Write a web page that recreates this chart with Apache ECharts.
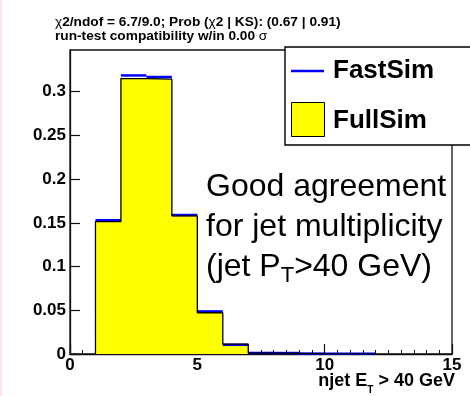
<!DOCTYPE html>
<html>
<head>
<meta charset="utf-8">
<script src="https://cdn.jsdelivr.net/npm/echarts@6/dist/echarts.min.js"></script>
<style>
  html, body { margin: 0; padding: 0; background: #fff; }
  #chart { width: 470px; height: 396px; }
</style>
</head>
<body>
<div id="chart"></div>
<script>
// Jet multiplicity, normalised: bin edges (njet) and per-bin fractions
const binEdges = [1, 2, 3, 4, 5, 6, 7, 8, 9, 10, 11, 12];
const fullSim  = [0.1515, 0.3150, 0.3143, 0.1580, 0.0472, 0.0112, 0.0010, 0.0008, 0.0003, 0.0002, 0.0002];
const fastSim  = [0.1530, 0.3186, 0.3168, 0.1590, 0.0487, 0.0105, 0.0012, 0.0011, 0.0004, 0.0003, 0.0003];
const xTickValues = [0, 5, 10, 15];
const yTickValues = [0, 0.05, 0.1, 0.15, 0.2, 0.25, 0.3];

const FONT = '"Liberation Sans", Arial, Helvetica, sans-serif';
const measureCtx = document.createElement('canvas').getContext('2d');
function textWidth(str, font) {
  measureCtx.font = font;
  return measureCtx.measureText(str).width;
}

// Lay out a run of text pieces left to right (or ending at x when align = 'right')
function textRun(x, y, parts, align) {
  const widths = parts.map(p => textWidth(p.text, p.font));
  const total = widths.reduce((a, b) => a + b, 0);
  let cx = align === 'right' ? x - total : x;
  return parts.map((p, i) => {
    const el = {
      type: 'text',
      x: cx,
      y: y + (p.dy || 0),
      z: 100,
      style: {
        text: p.text,
        font: p.font,
        fill: '#000',
        textAlign: 'left',
        textVerticalAlign: 'middle'
      }
    };
    cx += widths[i];
    return el;
  });
}

// Step outline through bin edges: up at the first edge, down at the last
function stepPoints(values) {
  const pts = [[binEdges[0], 0]];
  values.forEach((v, i) => pts.push([binEdges[i], v]));
  pts.push([binEdges[values.length], 0]);
  return pts;
}

const yMax = 0.3477;
const chart = echarts.init(document.getElementById('chart'), null, { renderer: 'canvas' });

const bold = s => 'bold ' + s + 'px ' + FONT;
const regular = s => s + 'px ' + FONT;

const graphics = [
  // faint tint along the left edge of the canvas
  { type: 'rect', shape: { x: 0, y: 0, width: 2, height: 396 }, style: { fill: '#fbe9e9' }, z: 0 },
  // legend box
  { type: 'rect', shape: { x: 285, y: 47, width: 200, height: 98 },
    style: { fill: '#fff', stroke: '#000', lineWidth: 1.4 }, z: 90 },
  { type: 'line', shape: { x1: 291, y1: 71, x2: 324, y2: 71 },
    style: { stroke: '#0000ff', lineWidth: 2.5 }, z: 95 },
  { type: 'rect', shape: { x: 291.5, y: 102.5, width: 33, height: 34 },
    style: { fill: '#ffff00', stroke: '#000', lineWidth: 1 }, z: 95 }
];

graphics.push(...textRun(333, 71, [{ text: 'FastSim', font: bold(26) }]));
graphics.push(...textRun(333, 121, [{ text: 'FullSim', font: bold(26) }]));

// statistics header
graphics.push(...textRun(55, 22, [
  { text: 'χ', font: regular(13.7) },
  { text: '2/ndof = 6.7/9.0; Prob (', font: bold(13.7) },
  { text: 'χ', font: regular(13.7) },
  { text: '2 | KS): (0.67 | 0.91)', font: bold(13.7) }
]));
graphics.push(...textRun(55, 36.5, [
  { text: 'run-test compatibility w/in 0.00 ', font: bold(13.7) },
  { text: 'σ', font: regular(13.7) }
]));

// annotation
graphics.push(...textRun(206, 187, [{ text: 'Good agreement', font: regular(32) }]));
graphics.push(...textRun(206, 227, [{ text: 'for jet multiplicity', font: regular(32) }]));
graphics.push(...textRun(206, 267, [
  { text: '(jet P', font: regular(32) },
  { text: 'T', font: regular(22), dy: 9 },
  { text: '>40 GeV)', font: regular(32) }
]));

// x axis title
graphics.push(...textRun(455, 381, [
  { text: 'njet E', font: bold(18) },
  { text: 'T', font: bold(10), dy: 9 },
  { text: ' > 40 GeV', font: bold(18) }
], 'right'));

const option = {
  animation: false,
  backgroundColor: '#fff',
  grid: {
    left: 70, right: 18, top: 50, bottom: 42,
    show: true, borderColor: '#111', borderWidth: 1.3, backgroundColor: 'transparent'
  },
  xAxis: {
    type: 'value', min: 0, max: 15, interval: 5,
    axisLine: { show: true, onZero: false, lineStyle: { color: '#111', width: 1.3 } },
    axisTick: { show: true, inside: true, length: 10, lineStyle: { color: '#111', width: 1.2 },
                customValues: xTickValues },
    minorTick: { show: true, splitNumber: 10, length: 4, lineStyle: { color: '#111', width: 1 } },
    axisLabel: { customValues: xTickValues, margin: 3, color: '#000',
                 fontFamily: FONT, fontWeight: 'bold', fontSize: 17 },
    splitLine: { show: false }
  },
  yAxis: {
    type: 'value', min: 0, max: yMax, interval: 0.05,
    axisLine: { show: true, onZero: false, lineStyle: { color: '#111', width: 1.3 } },
    axisTick: { show: true, inside: true, length: 10, lineStyle: { color: '#111', width: 1.2 },
                customValues: yTickValues },
    axisLabel: { customValues: yTickValues, margin: 4, color: '#000',
                 fontFamily: FONT, fontWeight: 'bold', fontSize: 17,
                 formatter: v => String(+(+v).toFixed(3)) },
    splitLine: { show: false }
  },
  graphic: graphics,
  series: [
    {
      // FullSim: solid yellow area under the step outline
      name: 'FullSim fill',
      type: 'line',
      z: 1,
      step: 'end',
      symbol: 'none',
      data: stepPoints(fullSim),
      lineStyle: { width: 0, opacity: 0 },
      areaStyle: { color: '#ffff00', opacity: 1 }
    },
    {
      // FastSim: blue level for each bin
      name: 'FastSim',
      type: 'custom',
      z: 2,
      data: fastSim.map((v, i) => [binEdges[i], binEdges[i + 1], v]),
      encode: { x: [0, 1], y: 2 },
      renderItem: (params, api) => {
        const p0 = api.coord([api.value(0), api.value(2)]);
        const p1 = api.coord([api.value(1), api.value(2)]);
        return {
          type: 'line',
          shape: { x1: p0[0], y1: p0[1], x2: p1[0], y2: p1[1] },
          style: { stroke: '#0000ff', lineWidth: 2.5, lineCap: 'butt' }
        };
      }
    },
    {
      // FullSim outline
      name: 'FullSim',
      type: 'line',
      z: 3,
      step: 'end',
      symbol: 'none',
      data: stepPoints(fullSim),
      lineStyle: { color: '#000', width: 1.3 }
    }
  ]
};

chart.setOption(option);
</script>
</body>
</html>
